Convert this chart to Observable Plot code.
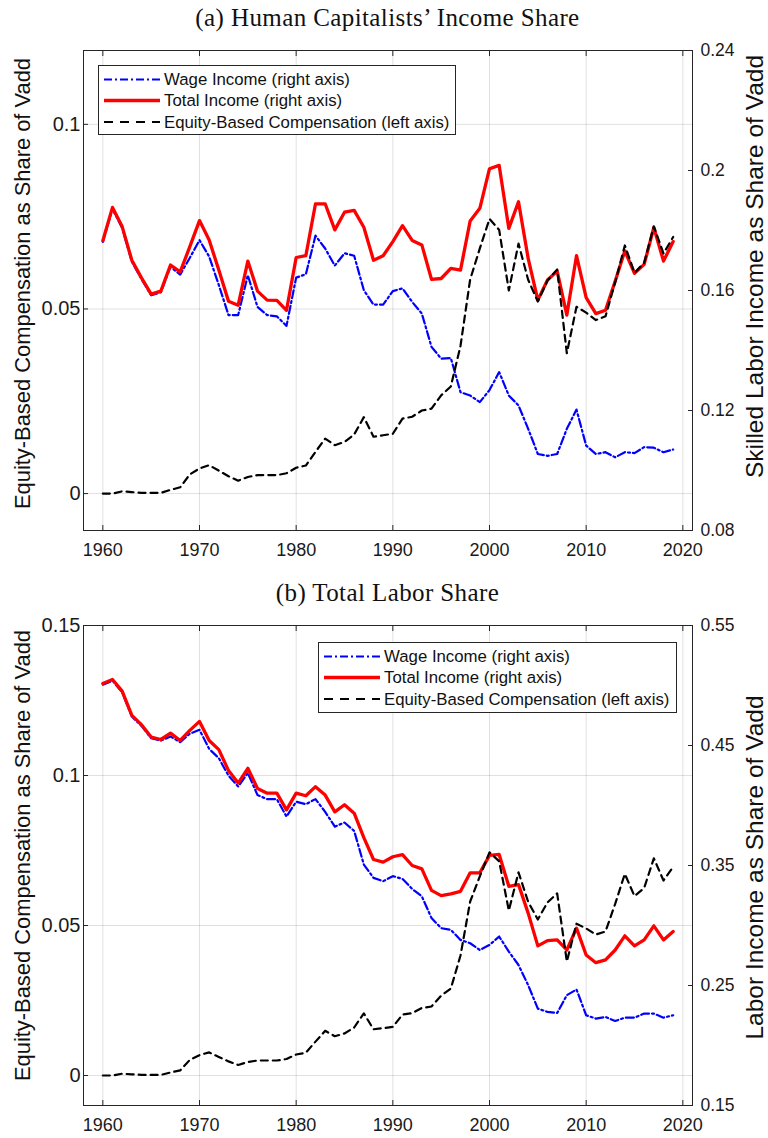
<!DOCTYPE html>
<html><head><meta charset="utf-8">
<script src="https://cdn.jsdelivr.net/npm/d3@7"></script>
<script src="https://cdn.jsdelivr.net/npm/@observablehq/plot@0.6"></script>
<style>
body{margin:0;background:#fff;}
#root{position:relative;width:768px;height:1138px;overflow:hidden;}
.title{position:absolute;left:83px;width:609px;text-align:center;font-family:"Liberation Serif","DejaVu Serif",serif;font-size:25px;letter-spacing:0.4px;line-height:30px;color:#111;white-space:nowrap;}
.plotwrap{position:absolute;left:0;}
.legend{position:absolute;}
</style></head><body><div id="root"></div>
<script>
const years = d3.range(1960, 2020);
const xTicks = [1960, 1970, 1980, 1990, 2000, 2010, 2020];

const equity = [
  0, 0, 0.0006, 0.0004, 0.0002, 0.0002, 0.0002, 0.001, 0.0017, 0.0052,
  0.0068, 0.0077, 0.0062, 0.0047, 0.0035, 0.0045, 0.005, 0.005, 0.005, 0.0055,
  0.007, 0.0076, 0.0113, 0.0149, 0.0131, 0.014, 0.016, 0.0207, 0.0154, 0.0158,
  0.0162, 0.0203, 0.0208, 0.0225, 0.023, 0.0266, 0.029, 0.04, 0.058, 0.0664,
  0.0744, 0.0714, 0.055, 0.0677, 0.0579, 0.052, 0.0577, 0.0607, 0.038, 0.0506,
  0.049, 0.047, 0.048, 0.0572, 0.0672, 0.0598, 0.0625, 0.0724, 0.065, 0.0695
];

const wageA = [
  0.1762, 0.1872, 0.1808, 0.1696, 0.1638, 0.1584, 0.1594, 0.1679, 0.1653, 0.1709,
  0.1768, 0.1713, 0.1618, 0.1518, 0.1518, 0.1651, 0.1545, 0.1518, 0.1514, 0.1482,
  0.1643, 0.1654, 0.1783, 0.174, 0.1683, 0.1724, 0.1716, 0.1601, 0.1553, 0.1553,
  0.1598, 0.1607, 0.1562, 0.1523, 0.1412, 0.1373, 0.1375, 0.1261, 0.125, 0.1228,
  0.1268, 0.1328, 0.125, 0.1217, 0.1139, 0.1055, 0.1049, 0.1055, 0.1139, 0.1203,
  0.1083, 0.1055, 0.1061, 0.1044, 0.1061, 0.1058, 0.1078, 0.1076, 0.1061, 0.107
];
const totalA = [
  0.1766, 0.1877, 0.1813, 0.1701, 0.1642, 0.1588, 0.1598, 0.1685, 0.1662, 0.1746,
  0.1833, 0.1768, 0.1668, 0.1564, 0.1551, 0.1698, 0.1598, 0.1568, 0.1567, 0.1534,
  0.171, 0.1716, 0.1889, 0.1889, 0.1802, 0.1861, 0.1867, 0.1811, 0.1701, 0.1716,
  0.1763, 0.1816, 0.1767, 0.1752, 0.1637, 0.164, 0.1674, 0.1668, 0.1832, 0.1874,
  0.2006, 0.2017, 0.1807, 0.1896, 0.1707, 0.1568, 0.1635, 0.1665, 0.1518, 0.1716,
  0.1576, 0.1523, 0.1534, 0.1631, 0.1732, 0.1657, 0.1687, 0.181, 0.1698, 0.1763
];
const wageB = [
  0.5007, 0.504, 0.4943, 0.4741, 0.4663, 0.456, 0.454, 0.4575, 0.4528, 0.4598,
  0.4631, 0.4472, 0.4394, 0.4249, 0.4159, 0.4271, 0.4087, 0.4053, 0.4053, 0.3908,
  0.4031, 0.4011, 0.4053, 0.3947, 0.3824, 0.3858, 0.3788, 0.3508, 0.3397, 0.3369,
  0.3411, 0.3388, 0.3305, 0.3243, 0.3062, 0.2978, 0.2964, 0.288, 0.2852, 0.2796,
  0.2838, 0.2908, 0.2782, 0.2671, 0.2503, 0.2307, 0.228, 0.2271, 0.2419, 0.2467,
  0.2252, 0.2224, 0.2238, 0.2204, 0.2232, 0.2232, 0.2266, 0.2266, 0.2232, 0.2252
];
const totalB = [
  0.5017, 0.505, 0.4953, 0.4751, 0.4673, 0.457, 0.455, 0.4603, 0.4542, 0.4626,
  0.4701, 0.4542, 0.4466, 0.4291, 0.4187, 0.431, 0.4142, 0.4103, 0.4103, 0.3964,
  0.4103, 0.4081, 0.4157, 0.4087, 0.3947, 0.4006, 0.3936, 0.3732, 0.355, 0.3528,
  0.3573, 0.359, 0.35, 0.3472, 0.3293, 0.3249, 0.3263, 0.3285, 0.3439, 0.3439,
  0.3584, 0.3592, 0.3327, 0.3341, 0.3103, 0.283, 0.2874, 0.288, 0.2796, 0.2978,
  0.2754, 0.269, 0.2713, 0.2796, 0.2914, 0.283, 0.288, 0.2997, 0.288, 0.295
];

const leftTicksA = [0, 0.05, 0.1];
const rightTicksA = [0.08, 0.12, 0.16, 0.2, 0.24];
const leftTicksB = [0, 0.05, 0.1, 0.15];
const rightTicksB = [0.15, 0.25, 0.35, 0.45, 0.55];

const titleA = "(a) Human Capitalists’ Income Share";
const titleB = "(b) Total Labor Share";
const leftLabel = "Equity-Based Compensation as Share of Vadd";
const rightLabelA = "Skilled Labor Income as Share of Vadd";
const rightLabelB = "Labor Income as Share of Vadd";
const legendLabels = ["Wage Income (right axis)", "Total Income (right axis)", "Equity-Based Compensation (left axis)"];

const BLUE = "#0000ff", RED = "#ff0000", BLACK = "#000000";
const WAGE_DASH = "8,3,2,3", EQ_DASH = "7,5";
const FONT = "'Liberation Sans', Arial, Helvetica, sans-serif";
const fmt = v => String(+(+v).toFixed(2));

function panel({leftDomain, rightDomain, leftTicks, rightTicks, wage, total, rightLabel, height, marginTop, marginBottom, leftDy, rightDy}) {
  const toLeft = r => leftDomain[0] + (r - rightDomain[0]) / (rightDomain[1] - rightDomain[0]) * (leftDomain[1] - leftDomain[0]);
  const toRight = l => rightDomain[0] + (l - leftDomain[0]) / (leftDomain[1] - leftDomain[0]) * (rightDomain[1] - rightDomain[0]);
  const rows = years.map((year, i) => ({year, equity: equity[i], wage: toLeft(wage[i]), total: toLeft(total[i])}));
  return Plot.plot({
    width: 768, height, marginLeft: 83, marginRight: 76, marginTop, marginBottom,
    style: {fontFamily: FONT, fontSize: "18px", color: "#262626", background: "#fff", overflow: "visible"},
    x: {domain: [1958, 2021]},
    y: {domain: leftDomain},
    marks: [
      Plot.gridX(xTicks, {stroke: "#000", strokeOpacity: 0.12}),
      Plot.gridY(leftTicks, {stroke: "#000", strokeOpacity: 0.12}),
      Plot.line(rows, {x: "year", y: "wage", stroke: BLUE, strokeWidth: 2.2, strokeDasharray: WAGE_DASH}),
      Plot.line(rows, {x: "year", y: "total", stroke: RED, strokeWidth: 3.3}),
      Plot.line(rows, {x: "year", y: "equity", stroke: BLACK, strokeWidth: 2.2, strokeDasharray: EQ_DASH}),
      Plot.axisX(xTicks, {anchor: "bottom", tickSize: -5, tickPadding: 18, tickFormat: d => String(d), label: null, stroke: "#262626", fill: "#1a1a1a", fontSize: 18}),
      Plot.axisX(xTicks, {anchor: "top", tickSize: -5, tickFormat: () => "", label: null, stroke: "#262626"}),
      Plot.axisY(leftTicks, {anchor: "left", tickSize: -5, tickPadding: 8, tickFormat: fmt, label: null, stroke: "#262626", fill: "#1a1a1a", fontSize: 20}),
      Plot.axisY(rightTicks.map(toLeft), {anchor: "right", tickSize: -5, tickPadding: 13, tickFormat: d => fmt(toRight(d)), label: null, stroke: "#262626", fill: "#1a1a1a", fontSize: 17.5}),
      Plot.frame({stroke: "#262626", strokeWidth: 1}),
      Plot.text([leftLabel], {frameAnchor: "left", rotate: -90, dx: -61, dy: leftDy, textAnchor: "middle", lineAnchor: "middle", fontSize: 21.9, fill: "#111"}),
      Plot.text([rightLabel], {frameAnchor: "right", rotate: -90, dx: 63, dy: rightDy, textAnchor: "middle", lineAnchor: "middle", fontSize: 24.5, fill: "#111"})
    ]
  });
}

function legend(left, top, width, height) {
  const svg = d3.create("svg").attr("class", "legend").attr("width", width).attr("height", height)
    .style("left", left + "px").style("top", top + "px");
  svg.append("rect").attr("x", 0.5).attr("y", 0.5).attr("width", width - 1).attr("height", height - 1)
    .attr("fill", "#fff").attr("stroke", "#262626").attr("stroke-width", 1);
  const styles = [
    {stroke: BLUE, w: 2.2, dash: WAGE_DASH},
    {stroke: RED, w: 3.3, dash: null},
    {stroke: BLACK, w: 2.2, dash: "9,7"}
  ];
  const rowsY = [14.5, 35.5, 57];
  legendLabels.forEach((lab, i) => {
    const s = styles[i];
    const ln = svg.append("line").attr("x1", 6).attr("x2", 62).attr("y1", rowsY[i]).attr("y2", rowsY[i])
      .attr("stroke", s.stroke).attr("stroke-width", s.w);
    if (s.dash) ln.attr("stroke-dasharray", s.dash);
    svg.append("text").attr("x", 66).attr("y", rowsY[i]).attr("dy", "0.35em")
      .attr("font-family", FONT).attr("font-size", 16.8).attr("fill", "#111").text(lab);
  });
  return svg.node();
}

const root = document.getElementById("root");
function addTitle(text, top) {
  const d = document.createElement("div");
  d.className = "title"; d.style.top = top + "px"; d.textContent = text;
  root.appendChild(d);
}
function addPlot(node, top) {
  const w = document.createElement("div");
  w.className = "plotwrap"; w.style.top = top + "px";
  w.appendChild(node); root.appendChild(w);
}

addTitle(titleA, 3);
addPlot(panel({leftDomain: [-0.01, 0.12], rightDomain: [0.08, 0.24], leftTicks: leftTicksA, rightTicks: rightTicksA,
  wage: wageA, total: totalA, rightLabel: rightLabelA, height: 529, marginTop: 14, marginBottom: 35,
  leftDy: -7, rightDy: -24}), 36);
root.appendChild(legend(98, 65, 358, 70));

addTitle(titleB, 578);
addPlot(panel({leftDomain: [-0.01, 0.15], rightDomain: [0.15, 0.55], leftTicks: leftTicksB, rightTicks: rightTicksB,
  wage: wageB, total: totalB, rightLabel: rightLabelB, height: 528, marginTop: 15, marginBottom: 33,
  leftDy: -10, rightDy: 2}), 610);
root.appendChild(legend(318, 642, 359, 71));
</script>
</body></html>
